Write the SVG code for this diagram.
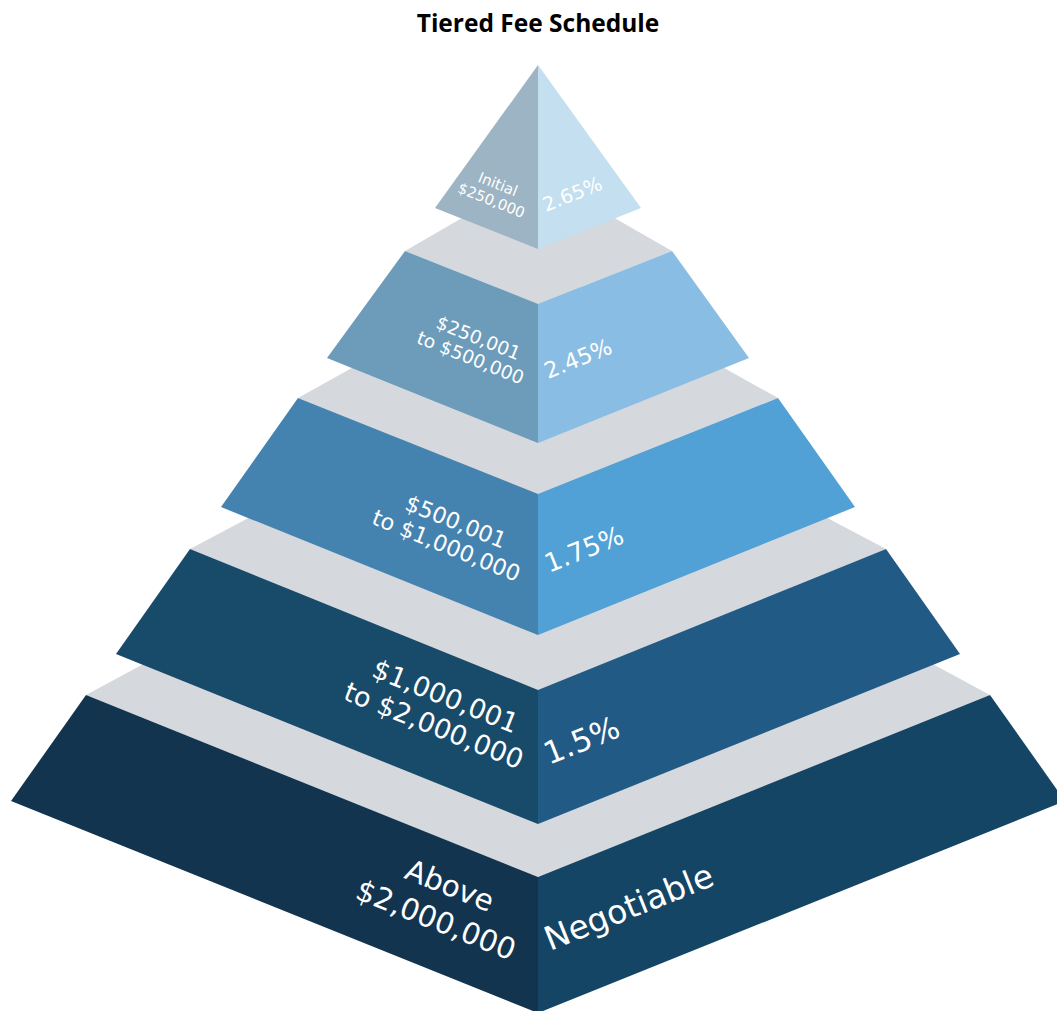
<svg xmlns="http://www.w3.org/2000/svg" width="1057" height="1011" viewBox="0 0 1057 1011">
  <style>
    .top { fill: #d5d8dc; }
    .lbl { font-family: "DejaVu Sans", Verdana, sans-serif; fill: #ffffff; }
    .l { text-anchor: middle; }
    .r { text-anchor: start; }
    .title { font-family: "Open Sans", "Liberation Sans", sans-serif; font-weight: 700; font-size: 24.5px; fill: #000000; text-anchor: middle; }
  </style>
  <rect width="1057" height="1011" fill="#ffffff"/>
  <text class="title" x="538" y="31.5">Tiered Fee Schedule</text>

  <g id="tier5">
    <polygon class="top" points="86,695 538,451 990,695 538,877"/>
    <polygon fill="#12344f" points="86,695 538,877 538,1013 11,801"/>
    <polygon fill="#154565" points="538,877 990,695 1065,801 538,1013"/>
    <text class="lbl l" font-size="29.5" transform="translate(446,895) rotate(21.8)"><tspan x="0">Above</tspan><tspan x="0" dy="37">$2,000,000</tspan></text>
    <text class="lbl r" font-size="33" transform="translate(550,951) rotate(-21.8)">Negotiable</text>
  </g>

  <g id="tier4">
    <polygon class="top" points="190,549 538,365 886,549 538,690"/>
    <polygon fill="#184a6a" points="190,549 538,690 538,824 116,654"/>
    <polygon fill="#225a86" points="538,690 886,549 960,654 538,824"/>
    <text class="lbl l" font-size="27" transform="translate(442,705) rotate(21.8)"><tspan x="0">$1,000,001</tspan><tspan x="0" dy="31.5">to $2,000,000</tspan></text>
    <text class="lbl r" font-size="31" transform="translate(549,765) rotate(-21.8)">1.5%</text>
  </g>

  <g id="tier3">
    <polygon class="top" points="298,398 538,264 778,398 538,494"/>
    <polygon fill="#4483b0" points="298,398 538,494 538,635 221,507"/>
    <polygon fill="#51a1d6" points="538,494 778,398 855,507 538,635"/>
    <text class="lbl l" font-size="22.3" transform="translate(453,529) rotate(21.8)"><tspan x="0">$500,001</tspan><tspan x="0" dy="25.6">to $1,000,000</tspan></text>
    <text class="lbl r" font-size="26" transform="translate(549,573) rotate(-21.8)">1.75%</text>
  </g>

  <g id="tier2">
    <polygon class="top" points="405,251 538,174 672,251 538,304"/>
    <polygon fill="#6d9cbb" points="405,251 538,304 538,443 327,358"/>
    <polygon fill="#8abde3" points="538,304 672,251 749,358 538,443"/>
    <text class="lbl l" font-size="18.6" transform="translate(476,344) rotate(21.8)"><tspan x="0">$250,001</tspan><tspan x="0" dy="21.2">to $500,000</tspan></text>
    <text class="lbl r" font-size="22.3" transform="translate(548,379) rotate(-21.8)">2.45%</text>
  </g>

  <g id="tier1">
    <polygon fill="#9cb4c3" points="538,65 435,208 538,249"/>
    <polygon fill="#c3dff0" points="538,65 538,249 641,208"/>
    <text class="lbl l" font-size="14.8" transform="translate(496,189) rotate(21.8)"><tspan x="0">Initial</tspan><tspan x="0" dy="17.3">$250,000</tspan></text>
    <text class="lbl r" font-size="19.6" transform="translate(546,212) rotate(-21.8)">2.65%</text>
  </g>
</svg>
